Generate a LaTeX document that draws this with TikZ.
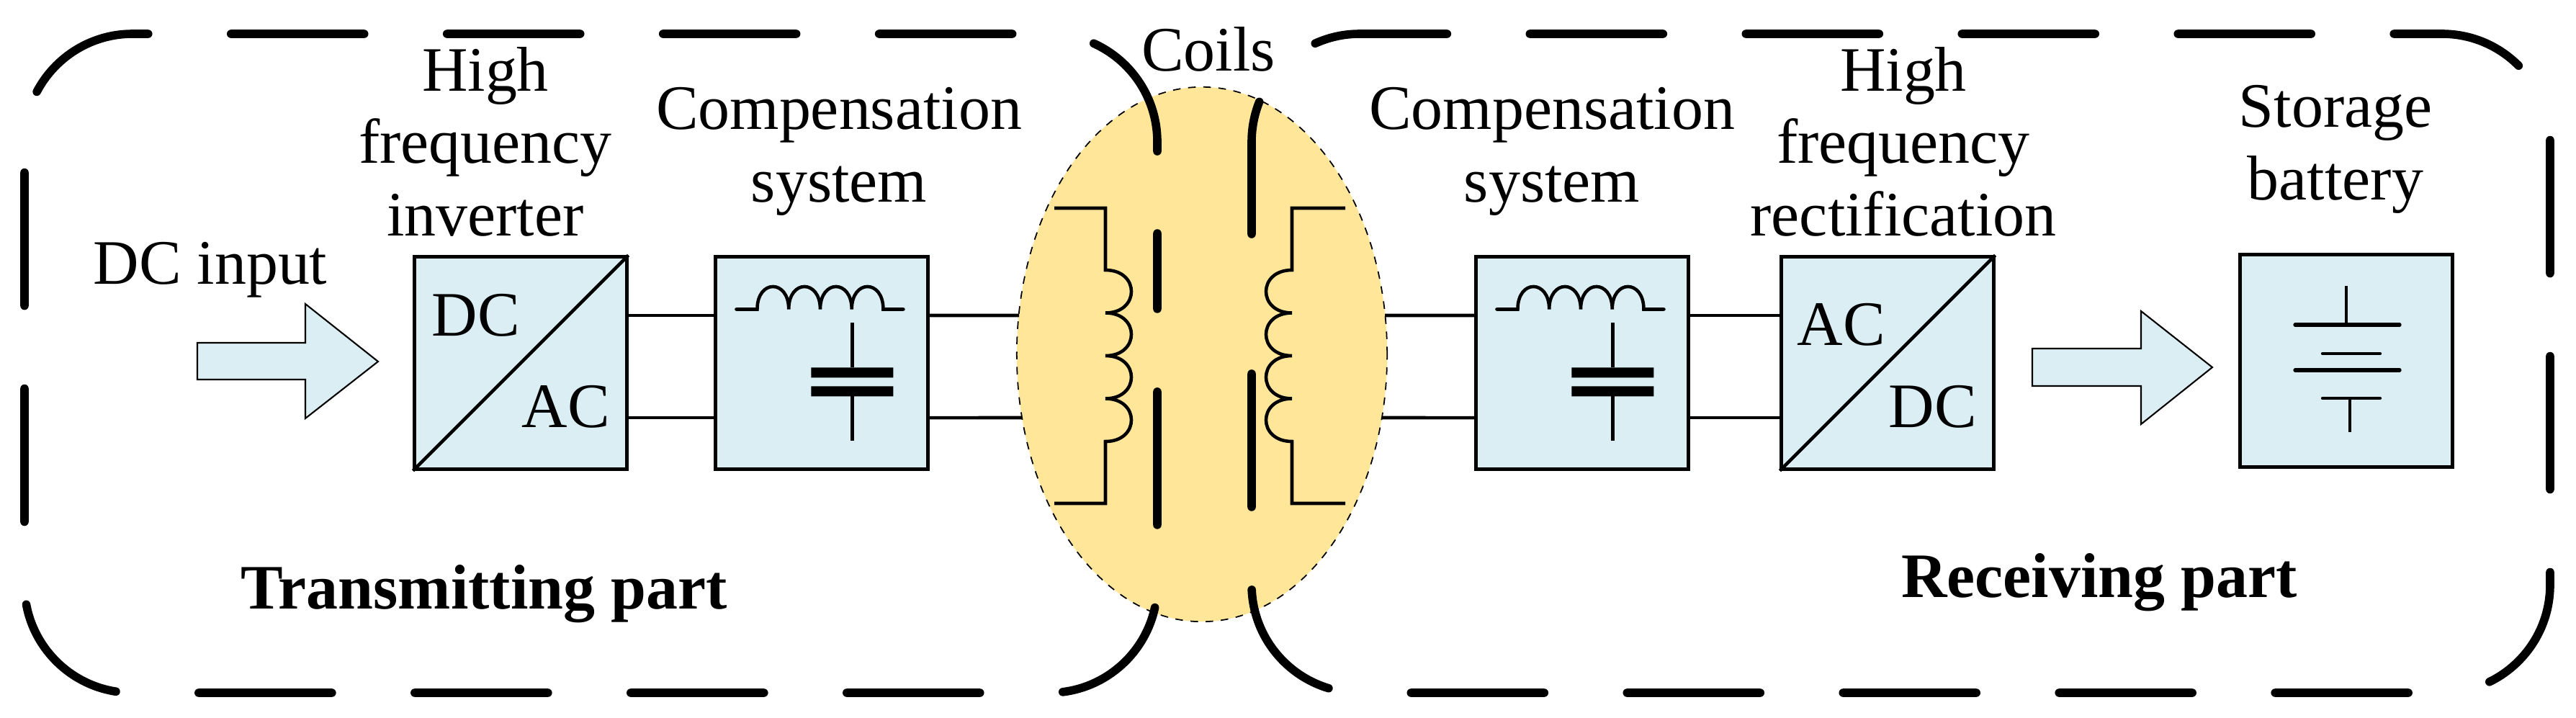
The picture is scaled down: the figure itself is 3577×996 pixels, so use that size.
\documentclass[tikz,border=0pt]{standalone}
\usepackage{fontspec}
\setmainfont{Liberation Serif}
\usetikzlibrary{shapes.geometric}
\definecolor{boxfill}{HTML}{DAEEF3}
\definecolor{coilfill}{HTML}{FFE699}
\begin{document}
\begin{tikzpicture}[x=0.01cm,y=-0.01cm,
  every node/.style={font=\fontsize{25}{28.45}\selectfont},
  lab/.style={align=center,anchor=base,inner sep=0},
  blk/.style={draw,line width=1.4pt,fill=boxfill,minimum width=2.94cm,minimum height=2.94cm,inner sep=0},
  wire/.style={line width=1.3pt},
  part/.style={line width=3.3pt,line cap=round,dash pattern=on 52.6pt off 32.7pt},
  barrow/.style={draw,line width=0.6pt,fill=boxfill},
  comp/.pic={
    \draw[wire,line cap=round] (31,75) -- (60,75)
      .. controls (60,33) and (103.75,33) .. (103.75,75)
      .. controls (103.75,33) and (147.5,33) .. (147.5,75)
      .. controls (147.5,33) and (191.25,33) .. (191.25,75)
      .. controls (191.25,33) and (235,33) .. (235,75) -- (263,75);
    \draw[wire] (192,94) -- (192,156) (192,196) -- (192,258);
    \fill (135,156) rectangle (249,170) (135,182) rectangle (249,196);
  }]
\useasboundingbox (0,0) rectangle (3577,996);
% coupling region
\node[ellipse,draw,dashed,line width=0.5pt,fill=coilfill,minimum width=5.14cm,minimum height=7.42cm,inner sep=0] (coil) at (1669,492) {};
% dashed outlines
\draw[part,rounded corners=1.5cm] (1607,210) -- (1607,47) -- (34,47) -- (34,962) -- (1607,962) -- (1607,324);
\draw[part,rounded corners=1.5cm] (1738,325) -- (1738,47) -- (3541,47) -- (3541,962) -- (1738,962) -- (1738,435);
% coils
\draw[wire] (1464,289) -- (1535,289) -- (1535,375)
  \foreach \k in {0,1,2,3}{ .. controls (1583,375+59.5*\k) and (1583,434.5+59.5*\k) .. (1535,434.5+59.5*\k) }
  -- (1535,699) -- (1464,699);
\draw[wire] (1868,289) -- (1794,289) -- (1794,375)
  \foreach \k in {0,1,2,3}{ .. controls (1746,375+59.5*\k) and (1746,434.5+59.5*\k) .. (1794,434.5+59.5*\k) }
  -- (1794,699) -- (1868,699);
\node[lab] (tcoil) at (1678,98) {Coils};
% blocks
\node[blk] (inv) at (723,504) {};
\draw[wire] (inv.south west) -- (inv.north east);
\node (invdc) at (661,438) {DC};
\node (invac) at (786,565) {AC};
\node[blk] (comp1) at (1141,504) {};
\pic at (comp1.north west) {comp};
\node[blk] (comp2) at (2197,504) {};
\pic at (comp2.north west) {comp};
\node[blk] (rect) at (2621,504) {};
\draw[wire] (rect.south west) -- (rect.north east);
\node (recac) at (2557,451) {AC};
\node (recdc) at (2684,565) {DC};
\node[blk] (bat) at (3258,501) {};
% battery symbol
\draw[wire] (3258,397) -- (3258,451) (3263,553) -- (3263,600);
\draw[line width=1.5pt,line cap=round] (3187,451) -- (3332,451) (3187,514) -- (3332,514);
\draw[line width=1.2pt,line cap=round] (3225,491) -- (3305,491) (3225,553) -- (3305,553);
% connections
\coordinate (eL1) at (1415,438); \coordinate (eL2) at (1419,580);
\coordinate (eR1) at (1923,438); \coordinate (eR2) at (1919,580);
\draw[wire] ([yshift=0.66cm]inv.east) -- ([yshift=0.66cm]comp1.west);
\draw[wire] ([yshift=-0.76cm]inv.east) -- ([yshift=-0.76cm]comp1.west);
\draw[wire] ([yshift=0.66cm]comp1.east) -- (eL1);
\draw[wire] ([yshift=-0.76cm]comp1.east) -- (eL2);
\draw[wire] (eR1) -- ([yshift=0.66cm]comp2.west);
\draw[wire] (eR2) -- ([yshift=-0.76cm]comp2.west);
\draw[wire] ([yshift=0.66cm]comp2.east) -- ([yshift=0.66cm]rect.west);
\draw[wire] ([yshift=-0.76cm]comp2.east) -- ([yshift=-0.76cm]rect.west);
% block arrows
\draw[barrow] (274,476) -- (424,476) -- (424,422) -- (525,502) -- (424,581) -- (424,527) -- (274,527) -- cycle;
\draw[barrow] (2822,484) -- (2973,484) -- (2973,432) -- (3072,510) -- (2973,589) -- (2973,536) -- (2822,536) -- cycle;
% labels
\node[lab] (tdc) at (292,394) {DC input};
\node[lab] (tinv) at (674,327) {High\\frequency\\inverter};
\node[lab] (tcomp1) at (1165,280) {Compensation\\system};
\node[lab] (tcomp2) at (2155,280) {Compensation\\system};
\node[lab] (trec) at (2643,327) {High\\frequency\\rectification};
\node[lab] (tbat) at (3243,277) {Storage\\battery};
\node[lab,font=\fontsize{25}{28.45}\selectfont\bfseries] (ttx) at (672,845) {Transmitting part};
\node[lab,font=\fontsize{25}{28.45}\selectfont\bfseries] (trx) at (2915,829) {Receiving part};
\end{tikzpicture}
\end{document}
